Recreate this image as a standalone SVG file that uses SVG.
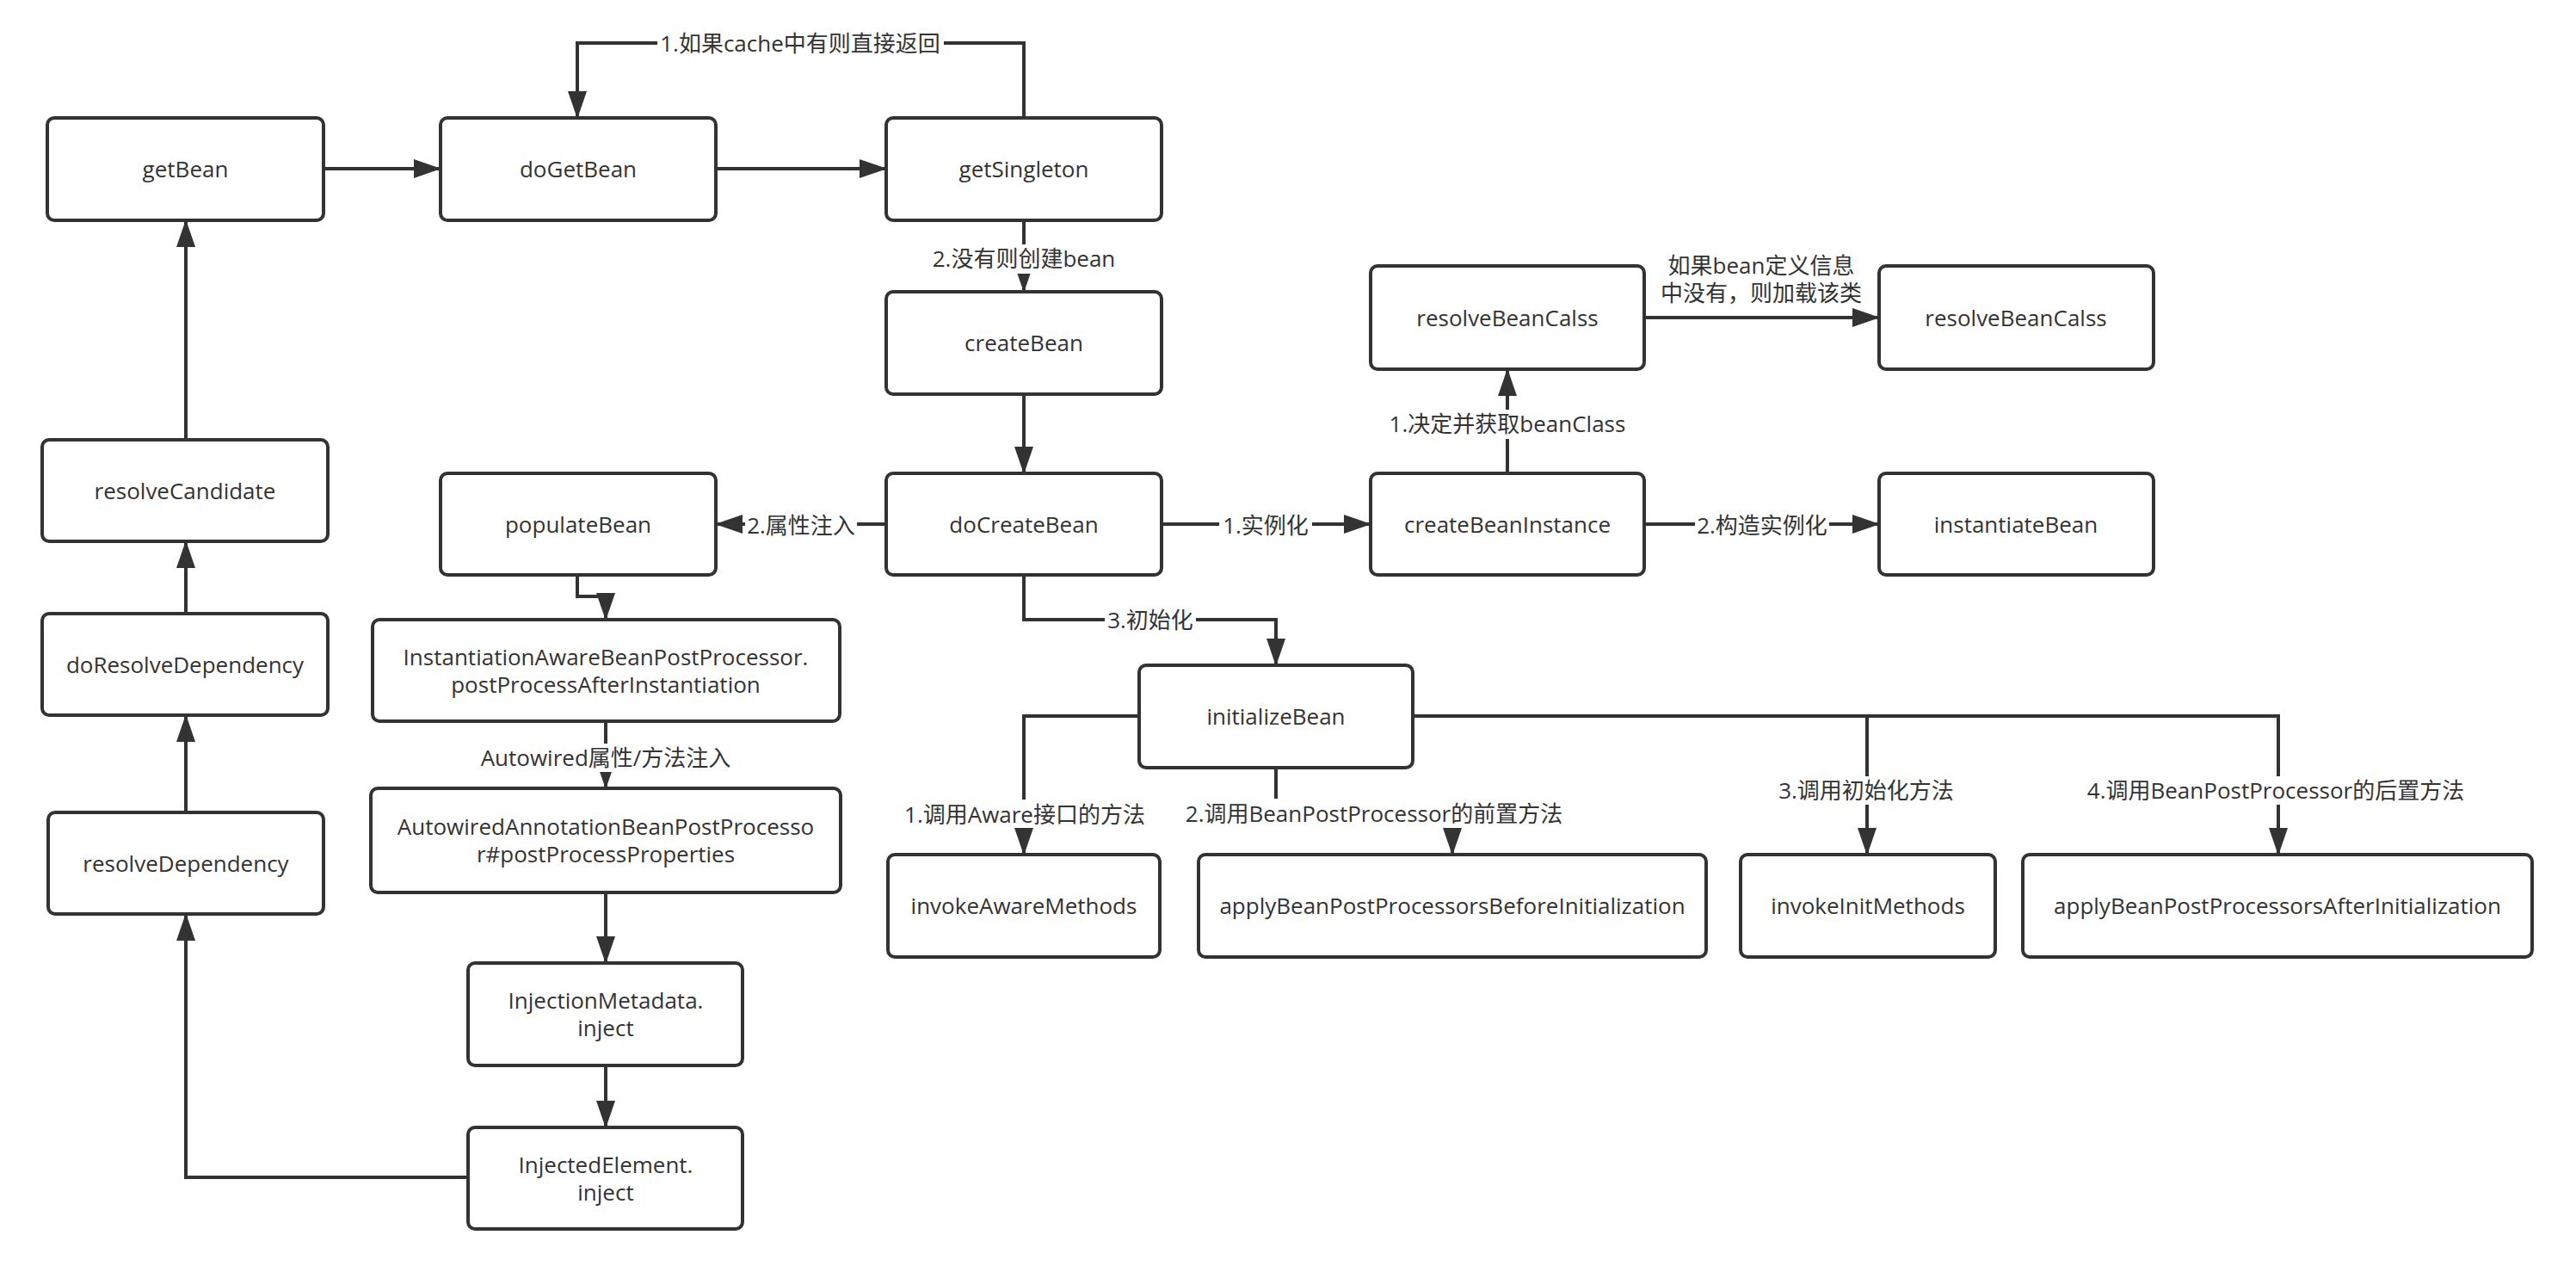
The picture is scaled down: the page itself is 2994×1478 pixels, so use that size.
<svg xmlns="http://www.w3.org/2000/svg" width="2994" height="1478" viewBox="0 0 2994 1478">
<defs>
<marker id="arr" markerUnits="userSpaceOnUse" markerWidth="32" markerHeight="22" viewBox="0 0 32 22" refX="31" refY="11" orient="auto">
<path d="M0,0 L32,11 L0,22 Z" fill="#333"/>
</marker>
<style>
.box{fill:#fff;stroke:#333;stroke-width:4}
.t{font-family:"Open Sans","Noto Sans CJK SC",sans-serif;font-size:26px;fill:#333;text-anchor:middle;dominant-baseline:central}
.c{fill:none;stroke:#333;stroke-width:4;marker-end:url(#arr)}
.lb{fill:#fff}
</style>
</defs>
<rect width="2994" height="1478" fill="#fff"/>
<g id="connectors">
<path class="c" d="M376,196 H512"/>
<path class="c" d="M832,196 H1030"/>
<path class="c" d="M1190,137 V50 H671 V137"/>
<path class="c" d="M1190,256 V339"/>
<path class="c" d="M1190,458 V550"/>
<path class="c" d="M1030,609 H832"/>
<path class="c" d="M1350,609 H1593"/>
<path class="c" d="M1911,609 H2184"/>
<path class="c" d="M1752,550 V429"/>
<path class="c" d="M1911,369 H2184"/>
<path class="c" d="M1190,668 V720 H1483 V773"/>
<path class="c" d="M1324,832 H1190 V993"/>
<path class="c" d="M1483,892 V945 H1688 V993"/>
<path class="c" d="M1642,832 H2170 V993"/>
<path class="c" d="M1642,832 H2648 V993"/>
<path class="c" d="M671,668 V693 H704 V720"/>
<path class="c" d="M704,838 V916"/>
<path class="c" d="M704,1037 V1119"/>
<path class="c" d="M704,1238 V1310"/>
<path class="c" d="M544,1368 H216 V1062"/>
<path class="c" d="M216,944 V831"/>
<path class="c" d="M216,713 V629"/>
<path class="c" d="M216,511 V256"/>
<rect class="lb" x="764" y="34" width="333" height="32"/>
<text class="t" x="930" y="50">1.如果cache中有则直接返回</text>
<rect class="lb" x="1080" y="284" width="220" height="34"/>
<text class="t" x="1190" y="300">2.没有则创建bean</text>
<rect class="lb" x="866" y="594" width="130" height="32"/>
<text class="t" x="931" y="610">2.属性注入</text>
<rect class="lb" x="1417" y="594" width="108" height="32"/>
<text class="t" x="1471" y="610">1.实例化</text>
<rect class="lb" x="1970" y="594" width="156" height="32"/>
<text class="t" x="2048" y="610">2.构造实例化</text>
<rect class="lb" x="1609" y="476" width="285" height="34"/>
<text class="t" x="1752" y="492">1.决定并获取beanClass</text>
<text class="t" x="2047" y="308">如果bean定义信息</text>
<text class="t" x="2047" y="340">中没有，则加载该类</text>
<rect class="lb" x="1284" y="704" width="106" height="32"/>
<text class="t" x="1337" y="720">3.初始化</text>
<rect class="lb" x="1048" y="929" width="287" height="33"/>
<text class="t" x="1191" y="946">1.调用Aware接口的方法</text>
<rect class="lb" x="1372" y="928" width="452" height="34"/>
<text class="t" x="1597" y="945">2.调用BeanPostProcessor的前置方法</text>
<rect class="lb" x="2064" y="902" width="210" height="33"/>
<text class="t" x="2169" y="918">3.调用初始化方法</text>
<rect class="lb" x="2418" y="902" width="453" height="33"/>
<text class="t" x="2645" y="918">4.调用BeanPostProcessor的后置方法</text>
<rect class="lb" x="552" y="864" width="304" height="33"/>
<text class="t" x="704" y="880">Autowired属性/方法注入</text>
</g>
<g id="getBean"><rect class="box" x="55" y="137" width="321" height="119" rx="8"/><text class="t" x="215.5" y="196">getBean</text></g>
<g id="doGetBean"><rect class="box" x="512" y="137" width="320" height="119" rx="8"/><text class="t" x="672" y="196">doGetBean</text></g>
<g id="getSingleton"><rect class="box" x="1030" y="137" width="320" height="119" rx="8"/><text class="t" x="1190" y="196">getSingleton</text></g>
<g id="createBean"><rect class="box" x="1030" y="339" width="320" height="119" rx="8"/><text class="t" x="1190" y="398">createBean</text></g>
<g id="doCreateBean"><rect class="box" x="1030" y="550" width="320" height="118" rx="8"/><text class="t" x="1190" y="609">doCreateBean</text></g>
<g id="populateBean"><rect class="box" x="512" y="550" width="320" height="118" rx="8"/><text class="t" x="672" y="609">populateBean</text></g>
<g id="resolveCandidate"><rect class="box" x="49" y="511" width="332" height="118" rx="8"/><text class="t" x="215" y="570">resolveCandidate</text></g>
<g id="doResolveDependency"><rect class="box" x="49" y="713" width="332" height="118" rx="8"/><text class="t" x="215" y="772">doResolveDependency</text></g>
<g id="resolveDependency"><rect class="box" x="56" y="944" width="320" height="118" rx="8"/><text class="t" x="216" y="1003">resolveDependency</text></g>
<g id="instantiationAware"><rect class="box" x="433" y="720" width="543" height="118" rx="8"/><text class="t" x="704" y="763">InstantiationAwareBeanPostProcessor.</text><text class="t" x="704" y="795">postProcessAfterInstantiation</text></g>
<g id="autowiredProcessor"><rect class="box" x="431" y="916" width="546" height="121" rx="8"/><text class="t" x="704" y="960">AutowiredAnnotationBeanPostProcesso</text><text class="t" x="704" y="992">r#postProcessProperties</text></g>
<g id="injectionMetadata"><rect class="box" x="544" y="1119" width="319" height="119" rx="8"/><text class="t" x="704" y="1162">InjectionMetadata.</text><text class="t" x="704" y="1194">inject</text></g>
<g id="injectedElement"><rect class="box" x="544" y="1310" width="319" height="118" rx="8"/><text class="t" x="704" y="1353">InjectedElement.</text><text class="t" x="704" y="1385">inject</text></g>
<g id="resolveBeanClass1"><rect class="box" x="1593" y="309" width="318" height="120" rx="8"/><text class="t" x="1752" y="369">resolveBeanCalss</text></g>
<g id="resolveBeanClass2"><rect class="box" x="2184" y="309" width="319" height="120" rx="8"/><text class="t" x="2343" y="369">resolveBeanCalss</text></g>
<g id="createBeanInstance"><rect class="box" x="1593" y="550" width="318" height="118" rx="8"/><text class="t" x="1752" y="609">createBeanInstance</text></g>
<g id="instantiateBean"><rect class="box" x="2184" y="550" width="319" height="118" rx="8"/><text class="t" x="2343" y="609">instantiateBean</text></g>
<g id="initializeBean"><rect class="box" x="1324" y="773" width="318" height="119" rx="8"/><text class="t" x="1483" y="832">initializeBean</text></g>
<g id="invokeAwareMethods"><rect class="box" x="1032" y="993" width="316" height="119" rx="8"/><text class="t" x="1190" y="1052">invokeAwareMethods</text></g>
<g id="applyBefore"><rect class="box" x="1393" y="993" width="590" height="119" rx="8"/><text class="t" x="1688" y="1052">applyBeanPostProcessorsBeforeInitialization</text></g>
<g id="invokeInitMethods"><rect class="box" x="2023" y="993" width="296" height="119" rx="8"/><text class="t" x="2171" y="1052">invokeInitMethods</text></g>
<g id="applyAfter"><rect class="box" x="2351" y="993" width="592" height="119" rx="8"/><text class="t" x="2647" y="1052">applyBeanPostProcessorsAfterInitialization</text></g>
</svg>
